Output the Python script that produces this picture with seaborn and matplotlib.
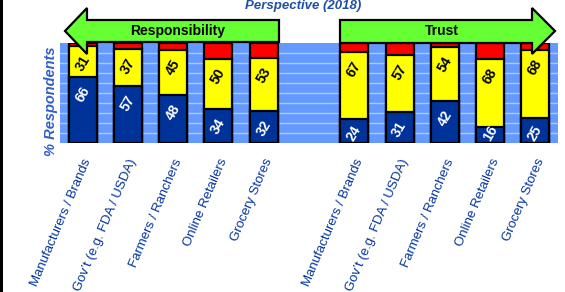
import numpy as np
import pandas as pd
import matplotlib
matplotlib.use("Agg")
import matplotlib.pyplot as plt
from matplotlib.patches import Polygon, Rectangle
import seaborn as sns

# ---- data ----
categories = ["Manufacturers / Brands", "Gov’t (e.g. FDA / USDA)",
              "Farmers / Ranchers", "Online Retailers", "Grocery Stores"]
groups = ["Responsibility", "Trust"]
resp_blue = [66, 57, 48, 34, 32]
resp_yellow = [31, 37, 45, 50, 53]
resp_red = [3, 6, 7, 16, 15]
trust_blue = [24, 31, 42, 16, 25]
trust_yellow = [67, 57, 54, 68, 68]
trust_red = [9, 12, 4, 16, 7]
title = "Perspective (2018)"
ylabel = "% Respondents"

sns.set_theme(style="white")
plt.rcParams["font.family"] = ["Liberation Sans", "DejaVu Sans"]

W, H = 565, 292
fig = plt.figure(figsize=(W / 100, H / 100), dpi=100)
ax = fig.add_axes([60 / W, 1 - 143 / H, (558 - 60) / W, (143 - 43) / H])

pos = list(range(5)) + list(range(6, 11))
blue = resp_blue + trust_blue
yellow = resp_yellow + trust_yellow
red = resp_red + trust_red
df = pd.DataFrame({
    "pos": pos,
    "cat": categories * 2,
    "blue": blue,
    "by": np.array(blue) + np.array(yellow),
    "total": np.array(blue) + np.array(yellow) + np.array(red),
})

common = dict(data=df, x="pos", native_scale=True, width=0.62, saturation=1,
              edgecolor="black", linewidth=1.6, errorbar=None, ax=ax, zorder=3)
sns.barplot(y="total", color="#FF0000", **common)
sns.barplot(y="by", color="#FFFF00", **common)
sns.barplot(y="blue", color="#003399", **common)

ax.set_facecolor("#6699FF")
ax.set_xlim(-0.5, 10.5)
ax.set_ylim(0, 100)
ax.set_yticks(range(10, 100, 10))
ax.yaxis.grid(True, color="#A8CCFF", linewidth=1.0)
ax.xaxis.grid(False)
ax.set_axisbelow(True)
ax.tick_params(axis="y", left=False, labelleft=False)
for s in ax.spines.values():
    s.set_visible(False)

ax.set_xticks(pos)
ax.set_xticklabels(categories * 2, rotation=67, ha="right", rotation_mode="anchor",
                   color="#0033A0", fontsize=9.5)
ax.tick_params(axis="x", bottom=False, pad=4)
ax.set_xlabel("")
ax.set_ylabel(ylabel, color="#2F5FC8", fontsize=10.5, fontweight="bold",
              fontstyle="italic")
ax.yaxis.set_label_coords(-0.004, 0.42)

# value labels
for p, b, y in zip(pos, blue, yellow):
    ax.text(p, max(b - 17, 10), str(b), rotation=60, ha="center", va="center",
            color="white", fontsize=10, fontweight="bold", zorder=5)
    ax.text(p, b + y - 17, str(y), rotation=60, ha="center", va="center",
            color="black", fontsize=10, fontweight="bold", zorder=5)

# arrows (figure pixel coordinates)
def fp(pts):
    return [(x / W, 1 - y / H) for x, y in pts]

left_arrow = [(65, 31), (87, 8), (87, 20), (279, 20), (279, 42), (87, 42), (87, 54)]
right_arrow = [(340, 20), (532, 20), (532, 8), (555, 31), (532, 54), (532, 43), (340, 43)]
for pts in (left_arrow, right_arrow):
    fig.patches.append(Polygon(fp(pts), closed=True, facecolor="#66FF33",
                               edgecolor="black", linewidth=1.6,
                               transform=fig.transFigure, zorder=10))
fig.text(178 / W, 1 - 31 / H, groups[0], ha="center", va="center",
         fontsize=10, fontweight="bold", color="black", zorder=11)
fig.text(442 / W, 1 - 31 / H, groups[1], ha="center", va="center",
         fontsize=10, fontweight="bold", color="black", zorder=11)

fig.text(303 / W, 1 - 6 / H, title, ha="center", va="center", fontsize=9.5,
         fontweight="bold", fontstyle="italic", color="#1F4FA8", zorder=11)

fig.patches.append(Rectangle((0, 0), 2.5 / W, 1, transform=fig.transFigure,
                             facecolor="black", edgecolor="none", zorder=12))

fig.savefig("out.png", dpi=100)
